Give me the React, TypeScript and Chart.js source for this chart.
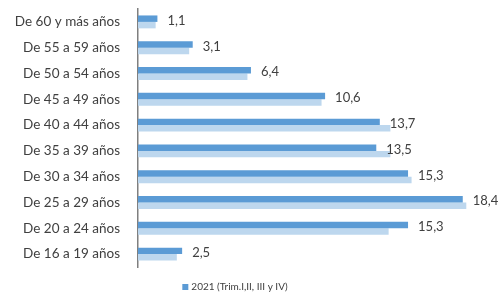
import React, { useEffect, useRef } from "react";
import { Chart, registerables } from "chart.js";

Chart.register(...registerables);

const categories = [
  "De 60 y más años",
  "De 55 a 59 años",
  "De 50 a 54 años",
  "De 45 a 49 años",
  "De 40 a 44 años",
  "De 35 a 39 años",
  "De 30 a 34 años",
  "De 25 a 29 años",
  "De 20 a 24 años",
  "De 16 a 19 años",
];
const series2021 = [1.1, 3.1, 6.4, 10.6, 13.7, 13.5, 15.3, 18.4, 15.3, 2.5];
const seriesPrev = [1.0, 2.9, 6.2, 10.4, 14.3, 14.3, 15.5, 18.6, 14.2, 2.2];
const legendLabel = "2021 (Trim.I,II, III y IV)";

const DARK = "#5B9BD5";
const LIGHT = "#BDD7EE";
const TEXT = "#404040";

const valueLabels = {
  id: "valueLabels",
  afterDatasetsDraw(chart: any) {
    const ctx = chart.ctx;
    const meta = chart.getDatasetMeta(0);
    ctx.save();
    ctx.font = "13px Lato";
    ctx.fillStyle = TEXT;
    ctx.textAlign = "left";
    ctx.textBaseline = "middle";
    meta.data.forEach((bar: any, i: number) => {
      const v = chart.data.datasets[0].data[i] as number;
      ctx.fillText(v.toFixed(1).replace(".", ","), bar.x + 10, bar.y + 2);
    });
    ctx.restore();
  },
};

const customLegend = {
  id: "customLegend",
  afterDraw(chart: any) {
    const ctx = chart.ctx;
    const ds = chart.data.datasets[0];
    ctx.save();
    ctx.font = "10px Lato";
    const text = ds.label;
    const w = ctx.measureText(text).width;
    const box = 6;
    const gap = 3;
    const total = box + gap + w;
    const cx = 235;
    const y = 287;
    const x0 = cx - total / 2;
    ctx.fillStyle = ds.backgroundColor;
    ctx.fillRect(x0, y - box / 2, box, box);
    ctx.fillStyle = TEXT;
    ctx.textBaseline = "middle";
    ctx.textAlign = "left";
    ctx.fillText(text, x0 + box + gap, y);
    ctx.restore();
  },
};

export default function App() {
  const ref = useRef<HTMLCanvasElement>(null);
  useEffect(() => {
    document.body.style.margin = "0";
    const chart = new Chart(ref.current!, {
      type: "bar",
      data: {
        labels: categories,
        datasets: [
          {
            label: legendLabel,
            data: series2021,
            backgroundColor: DARK,
            categoryPercentage: 0.5,
            barPercentage: 1.0,
          },
          {
            label: "prev",
            data: seriesPrev,
            backgroundColor: LIGHT,
            categoryPercentage: 0.5,
            barPercentage: 1.0,
          },
        ],
      },
      options: {
        indexAxis: "y",
        animation: false,
        responsive: false,
        layout: { padding: { top: 9, bottom: 28, right: 10, left: 0 } },
        plugins: {
          legend: { display: false },
          tooltip: { enabled: false },
        },
        scales: {
          x: { display: false, min: 0, max: 20 },
          y: {
            grid: { display: false, drawTicks: false },
            border: { display: true, color: "#7F7F7F", width: 1.5 },
            ticks: {
              color: TEXT,
              font: { family: "Lato", size: 13.5 },
              padding: 18,
            },
            afterFit(scale: any) {
              scale.width = 138;
              scale.paddingTop = 0;
              scale.paddingBottom = 0;
            },
          },
        },
      },
      plugins: [valueLabels, customLegend],
    });
    return () => chart.destroy();
  }, []);
  return <canvas ref={ref} width={501} height={295} style={{ display: "block" }} />;
}
